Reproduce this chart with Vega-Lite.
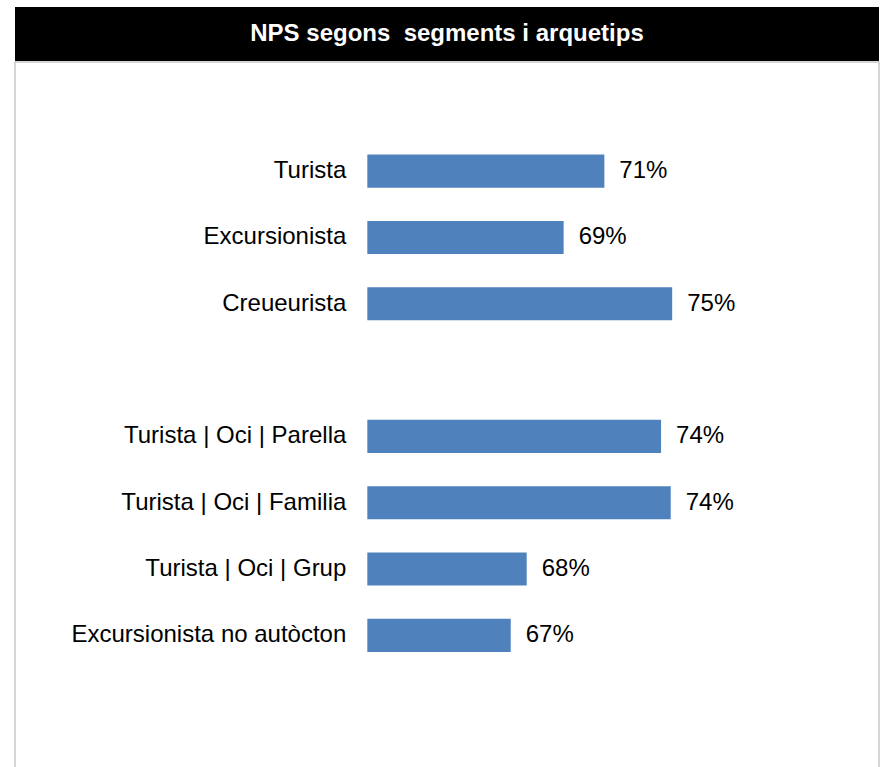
{
  "$schema": "https://vega.github.io/schema/vega-lite/v6.json",
  "padding": {"left": 14, "top": 7, "right": 3, "bottom": 0},
  "background": "white",
  "spacing": 0,
  "config": {"concat": {"spacing": 0}, "text": {"font": "Liberation Sans"}},
  "vconcat": [
    {
      "width": 864,
      "height": 54,
      "view": {"fill": "black", "stroke": null},
      "data": {"values": [{"title": "NPS segons\u00a0 segments i arquetips"}]},
      "mark": {"type": "text", "font": "Liberation Sans", "fontWeight": "bold", "fontSize": 24, "color": "white", "baseline": "middle", "align": "center"},
      "encoding": {"text": {"field": "title"}}
    },
    {
      "width": 864,
      "height": 706,
      "view": {"stroke": "#c8c8c8", "strokeWidth": 1.5},
      "data": {
        "values": [
          {"segment": "Turista", "nps": 0.7129},
          {"segment": "Excursionista", "nps": 0.6935},
          {"segment": "Creueurista", "nps": 0.7452},
          {"segment": "Turista | Oci | Parella", "nps": 0.7399},
          {"segment": "Turista | Oci | Familia", "nps": 0.7445},
          {"segment": "Turista | Oci | Grup", "nps": 0.6759},
          {"segment": "Excursionista no autòcton", "nps": 0.6683}
        ]
      },
      "encoding": {
        "y": {
          "field": "segment",
          "type": "nominal",
          "sort": null,
          "scale": {
            "domain": ["Turista", "Excursionista", "Creueurista", "", "Turista | Oci | Parella", "Turista | Oci | Familia", "Turista | Oci | Grup", "Excursionista no autòcton"],
            "range": [76, 606.5],
            "paddingInner": 0.5,
            "paddingOuter": 0.25
          },
          "axis": null
        }
      },
      "layer": [
        {
          "mark": {"type": "bar", "color": "#4F81BD"},
          "encoding": {
            "x": {"field": "nps", "type": "quantitative", "scale": {"domain": [0.4322, 0.8437], "zero": false, "nice": false}, "axis": null},
            "x2": {"datum": 0.6}
          }
        },
        {
          "mark": {"type": "text", "align": "left", "baseline": "middle", "dx": 15, "fontSize": 24, "color": "black"},
          "encoding": {
            "x": {"field": "nps", "type": "quantitative"},
            "text": {"field": "nps", "type": "quantitative", "format": ".0%"}
          }
        },
        {
          "mark": {"type": "text", "align": "right", "baseline": "middle", "dx": -21, "fontSize": 24, "color": "black"},
          "encoding": {
            "x": {"datum": 0.6},
            "text": {"field": "segment", "type": "nominal"}
          }
        }
      ]
    }
  ]
}
